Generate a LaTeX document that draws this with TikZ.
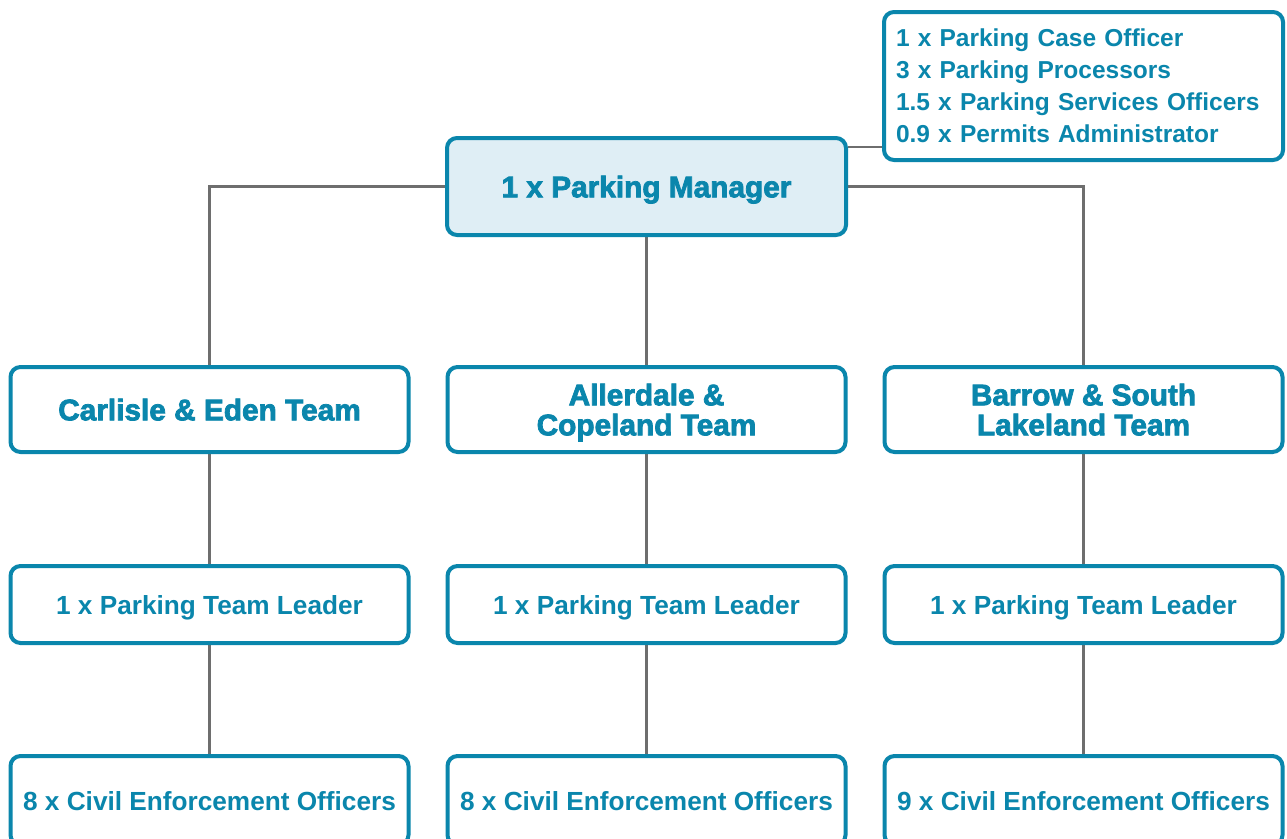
\documentclass[tikz,border=0pt]{standalone}
\usepackage{fontspec}
\setmainfont{Liberation Sans}
\newfontfamily\heavyfont[RawFeature={embolden=2.6}]{Liberation Sans Bold}
\usetikzlibrary{backgrounds}
\definecolor{boxblue}{HTML}{0A86AC}
\definecolor{mgrfill}{HTML}{DFEEF5}
\definecolor{linegray}{HTML}{6E6E6E}
\tikzset{
  basebox/.style={draw=boxblue, line width=4pt, rounded corners=10pt, fill=white,
    text=boxblue, inner sep=0pt, minimum width=398pt, align=center},
  orgbox/.style={basebox, text depth=0pt},
  plainfont/.style={font=\fontsize{26.2}{32}\selectfont\bfseries},
  listfont/.style={font=\fontsize{24.5}{32}\selectfont\bfseries},
  heavy/.style={font=\heavyfont\fontsize{29.8}{30}\selectfont},
  conn/.style={draw=linegray, line width=2.2pt}
}
\begin{document}
\begin{tikzpicture}[x=1pt,y=-1pt]
\useasboundingbox (0,0) rectangle (1287,838);
% top right staff box
\node[basebox, listfont, minimum width=399pt, minimum height=148pt, text width=375pt, align=left] (tr) at (1083.5,86)
  {1 x Parking Case Officer\\3 x Parking Processors\\1.5 x Parking Services Officers\\0.9 x Permits Administrator};
% manager
\node[orgbox, heavy, fill=mgrfill, minimum width=399pt, minimum height=97pt] (mgr) at (646.5,186.5) {1 x Parking Manager};
% teams
\node[orgbox, heavy, minimum height=85pt] (t1) at (209.5,409.5) {Carlisle \& Eden Team};
\node[orgbox, heavy, minimum height=85pt] (t2) at (646.5,409.5) {Allerdale \&\\Copeland Team};
\node[orgbox, heavy, minimum height=85pt] (t3) at (1083.5,409.5) {Barrow \& South\\Lakeland Team};
% team leaders
\node[orgbox, plainfont, minimum height=77pt] (l1) at (209.5,604.5) {1 x Parking Team Leader};
\node[orgbox, plainfont, minimum height=77pt] (l2) at (646.5,604.5) {1 x Parking Team Leader};
\node[orgbox, plainfont, minimum height=77pt] (l3) at (1083.5,604.5) {1 x Parking Team Leader};
% civil enforcement officers
\node[orgbox, plainfont, minimum height=89pt] (c1) at (209.5,800.5) {8 x Civil Enforcement Officers};
\node[orgbox, plainfont, minimum height=89pt] (c2) at (646.5,800.5) {8 x Civil Enforcement Officers};
\node[orgbox, plainfont, minimum height=89pt] (c3) at (1083.5,800.5) {9 x Civil Enforcement Officers};
\coordinate (side) at (0,147);
\begin{pgfonlayer}{background}
\fill[white] (0,0) rectangle (1287,838);
\draw[conn] (mgr.east |- side) -- (tr.west |- side);
\draw[conn] (mgr.west) -| (t1.north);
\draw[conn] (mgr.south) -- (t2.north);
\draw[conn] (mgr.east) -| (t3.north);
\draw[conn] (t1.south) -- (l1.north);
\draw[conn] (t2.south) -- (l2.north);
\draw[conn] (t3.south) -- (l3.north);
\draw[conn] (l1.south) -- (c1.north);
\draw[conn] (l2.south) -- (c2.north);
\draw[conn] (l3.south) -- (c3.north);
\end{pgfonlayer}
\end{tikzpicture}
\end{document}
